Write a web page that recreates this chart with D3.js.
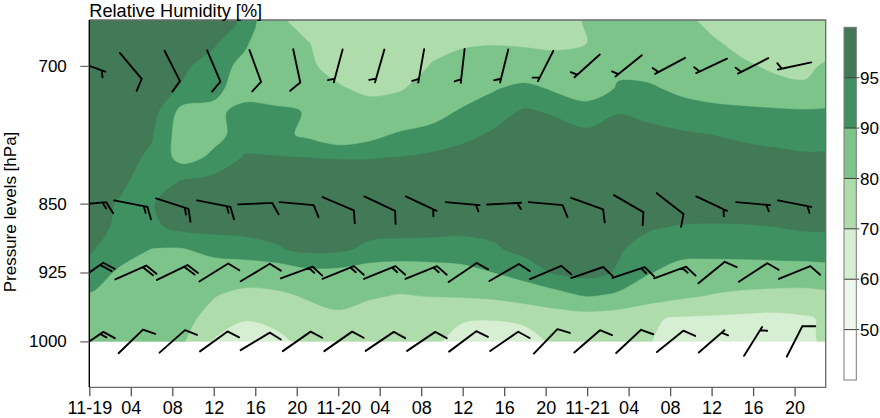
<!DOCTYPE html>
<html><head><meta charset="utf-8">
<script src="https://cdn.jsdelivr.net/npm/d3@7"></script>
<style>
body{margin:0;background:#fff}
svg{display:block}
text{font-family:"Liberation Sans",Arial,Helvetica,sans-serif;fill:#000}
</style>
</head><body>
<svg id="chart" width="880" height="418"></svg>
<script>
// ---------------- data ----------------
const gridHours = [0,3,6,9,12,15,18,21,24,27,30,33,36,39,42,45,48,51,54,57,60,63,66,69,72];
const gridLevels = [650,675,700,725,750,775,800,825,850,875,900,925,950,975,1000];
// relative humidity [%], one row per pressure level (top to bottom), one value per grid hour
const rh650  = [98,98,98,97,96.5,94.5,82,76,75,74,74,74,74,74,74,75,81,83,84,82,78,76,75,75,76];
const rh675  = [98,98,97.5,97,95.6,91,83,80.5,75,74,75,77,79,79.5,79,78,80,83,85,83,81,78,76,75,76];
const rh700  = [98,97.5,97,95.8,93,88,84,81.5,77,74,75,80.5,83,84,84,84,86,89,87,84,83,81,79,78.5,82];
const rh725  = [98,97.5,97,94.5,91.5,87,84,83,81,78,79.5,83,86,89.5,92,89,87,90.5,91,88.5,86,84,82,81,84];
const rh750  = [98,97.5,97,88,88.5,92,92,89.5,86,84,84,87,91,93.5,95.5,94.5,92.5,94.8,94,93,92.5,92,91.5,91,91];
const rh775  = [98,97.5,95.5,87,88.5,92,91.5,89,86,88,91,92.5,94,95.5,96,96.5,96,96.5,96,95.5,95,94.5,94,93.5,93.5];
const rh800  = [98,97,94,88,91,95.5,95.3,95,94.8,94.8,95.2,95.8,96.5,97,97,97,97,97,97,97,96.5,96,95.8,95.5,95.5];
const rh825  = [98,96,92.5,95.2,96.5,97,97.5,97.5,97.5,97.5,97.5,98,98,98,98,98,98,98,98,98,97.5,97.5,97.5,97.5,97.5];
const rh850  = [97,94.5,94.8,96.5,97.5,98,98,98,98,98,98,98,98,98,98,98,98,98,98,98,98,98,98,98,98];
const rh875  = [96,94.5,94,96.5,96.5,96.5,96.5,96.5,96.5,96.5,96.5,96.3,96,96,96,96,96.5,96.5,95.5,94.7,94.5,94.6,95,95.5,95.5];
const rh900  = [95.5,92.5,89.8,89.5,92,93,94.5,96,95.8,94,93.5,93.5,93.5,94.5,96,97,97.5,95.5,93,92,92,92.5,93,93,93];
const rh925  = [93,89,86,85.5,86,86,86.5,88.5,88.5,87,86.5,87,88,90,93,95.5,96.5,94.5,90.3,87.5,87,86.5,86.5,87,87];
const rh950  = [89.5,87,85,82,80.5,77,78,81,82.5,81,79.5,80.5,81,82,85,88,90.5,89,85,82,79.5,78,77,76.5,77];
const rh975  = [88,86,84,82.5,77,70.5,72,76,78.5,76,74,72,70.5,70.3,71,74,75.5,74,71,69,68.5,68,67.5,69,72];
const rh1000 = [86,84,83,81,69,66,68,72,75,75,74,71,68,67,68,71,73,72,70.2,68,67,66,66,68,73];

const rhBreaks = [50,60,70,80,90,95];
const rhColors = ["#ffffff","#eff8ee","#d6efd2","#aedcaa","#7dc48b","#3f9162","#427a58"];

const yTickValues = [700,850,925,1000];
const xTickHours = [0,4,8,12,16,20,24,28,32,36,40,44,48,52,56,60,64,68];
const xTickLabels = ["11-19","04","08","12","16","20","11-20","04","08","12","16","20","11-21","04","08","12","16","20"];

// wind barbs: direction (deg, from) and speed (kt) every 4 h at 4 levels
const barbHours = [0,4,8,12,16,20,24,28,32,36,40,44,48,52,56,60,64,68];
const barbLevels = [700,850,925,1000];
const windDir700  = [110,140,153,157,160,168,195,196,190,186.5,194,207,228,231,242,245,243,258];
const windSpd700  = [5,10,10,10,10,10,5,5,5,5,5,5,5,5,5,5,5,5];
const windDir850  = [85,101,108,101,87.5,95,113,115,115,95,87,95,110,120,128,115,95,101];
const windSpd850  = [15,15,15,15,10,10,10,10,5,5,5,10,10,10,10,5,5,5];
const windDir925  = [55,66,64,58,59,70,68,68,68,56,60,67,71,71.5,70,51,57,68];
const windSpd925  = [20,20,20,10,10,15,15,15,15,10,10,10,10,15,15,10,10,10];
const windDir1000 = [56,46,48.5,54,59,55,55,56,56,53,55.5,44,49,47,51,49,32,27];
const windSpd1000 = [15,10,10,10,10,10,10,10,10,10,10,10,10,10,10,5,5,10];

// ---------------- chart ----------------
const svg = d3.select("#chart");
const X0 = 89.3, X1 = 825.7, Y0 = 20, Y1 = 387.3;
const x = d3.scaleLinear().domain([0,71]).range([X0,X1]);
const y = d3.scaleLinear().domain([650,1050]).range([Y0,Y1]);

const defs = svg.append("defs");
defs.append("clipPath").attr("id","fieldClip").append("rect")
  .attr("x",x(0)).attr("y",y(650)).attr("width",x(71)-x(0)).attr("height",y(1000)-y(650));
defs.append("clipPath").attr("id","plotClip").append("rect")
  .attr("x",X0).attr("y",Y0).attr("width",X1-X0).attr("height",Y1-Y0);

const rows = [rh650,rh675,rh700,rh725,rh750,rh775,rh800,rh825,rh850,rh875,rh900,rh925,rh950,rh975,rh1000];
const nx = gridHours.length, ny = gridLevels.length;
const values = [];
rows.forEach(r => r.forEach(v => values.push(v)));
const hStep = gridHours[1]-gridHours[0], pStep = gridLevels[1]-gridLevels[0];
const gx = u => x(gridHours[0]+(u-0.5)*hStep);
const gy = v => y(gridLevels[0]+(v-0.5)*pStep);
const contours = d3.contours().size([nx,ny]).thresholds(rhBreaks)(values);
const ringLine = d3.line().x(p=>gx(p[0])).y(p=>gy(p[1])).curve(d3.curveCatmullRomClosed.alpha(0.5));
function contourPath(c){
  let s = "";
  c.coordinates.forEach(poly => poly.forEach(ring => {
    s += ringLine(ring.slice(0, ring.length-1));
  }));
  return s;
}

const field = svg.append("g").attr("clip-path","url(#fieldClip)");
field.append("rect").attr("x",x(0)).attr("y",y(650)).attr("width",x(71)-x(0)).attr("height",y(1000)-y(650)).attr("fill",rhColors[0]);
field.selectAll("path").data(contours).join("path")
  .attr("d",contourPath)
  .attr("fill-rule","evenodd")
  .attr("fill",(d,i)=>rhColors[i+1])
  .attr("stroke",(d,i)=>rhColors[i+1]).attr("stroke-width",0.4);

// wind barbs
const barbG = svg.append("g").attr("clip-path","url(#plotClip)");
const winds = [[windDir700,windSpd700],[windDir850,windSpd850],[windDir925,windSpd925],[windDir1000,windSpd1000]];
function barbPath(cx, cy, dir, spd){
  const th = (dir-90)*Math.PI/180;
  const ux = Math.cos(th), uy = Math.sin(th);
  const L = 17;
  const x1 = cx+L*ux, y1 = cy+L*uy;
  let p = `M${cx-L*ux},${cy-L*uy}L${x1},${y1}`;
  const fa = th + 63*Math.PI/180, fx = Math.cos(fa), fy = Math.sin(fa);
  const full = Math.floor(spd/10), half = Math.round((spd-full*10)/5);
  const sp = 3.8;
  let k = 0;
  for(let i=0;i<full;i++,k++){
    const px = x1-k*sp*ux, py = y1-k*sp*uy;
    p += `M${px},${py}l${13*fx},${13*fy}`;
  }
  if(half){
    if(k===0) k=1;
    const px = x1-k*sp*ux, py = y1-k*sp*uy;
    p += `M${px},${py}l${7*fx},${7*fy}`;
  }
  return p;
}
barbLevels.forEach((lev,li)=>{
  barbHours.forEach((h,hi)=>{
    barbG.append("path")
      .attr("d",barbPath(x(h),y(lev),winds[li][0][hi],winds[li][1][hi]))
      .attr("fill","none").attr("stroke","#000").attr("stroke-width",1.9)
      .attr("stroke-linecap","round").attr("stroke-linejoin","round");
  });
});

// frame
svg.append("path").attr("d",`M${X0},${Y0}H${X1}V${Y1}H${X0}`)
  .attr("fill","none").attr("stroke","#6a6a6a").attr("stroke-width",1.3);
svg.append("line").attr("x1",X0).attr("x2",X0).attr("y1",Y0).attr("y2",Y1)
  .attr("stroke","#000").attr("stroke-width",1.4);

// axes
const yAxis = svg.append("g").attr("transform",`translate(${X0},0)`)
  .call(d3.axisLeft(y).tickValues(yTickValues).tickSize(9).tickPadding(13.5).tickFormat(d3.format("d")));
yAxis.select(".domain").remove();
yAxis.selectAll(".tick line").attr("stroke","#6a6a6a").attr("stroke-width",1.3);
yAxis.selectAll(".tick text").attr("font-size",17).attr("font-family",null);

const xAxis = svg.append("g").attr("transform",`translate(0,${Y1})`)
  .call(d3.axisBottom(x).tickValues(xTickHours).tickSize(9).tickPadding(4.5).tickFormat((d,i)=>xTickLabels[i]));
xAxis.select(".domain").remove();
xAxis.selectAll(".tick line").attr("stroke","#555").attr("stroke-width",1.3);
xAxis.selectAll(".tick text").attr("font-size",18).attr("font-family",null);

// titles
svg.append("text").attr("x",X0).attr("y",17).attr("font-size",18.2).text("Relative Humidity [%]");
svg.append("text").attr("transform","translate(15.5,212) rotate(-90)").attr("text-anchor","middle")
  .attr("font-size",17).text("Pressure levels [hPa]");

// colour key
const kx0 = 844, kx1 = 856.3;
const ky = d3.scaleLinear().domain([0,rhColors.length]).range([380,27.3]);
const key = svg.append("g");
rhColors.forEach((c,i)=>{
  key.append("rect").attr("x",kx0).attr("y",ky(i+1)).attr("width",kx1-kx0).attr("height",ky(i)-ky(i+1)).attr("fill",c);
});
rhBreaks.forEach((b,i)=>{
  key.append("line").attr("x1",kx0).attr("x2",kx1+3).attr("y1",ky(i+1)).attr("y2",ky(i+1))
    .attr("stroke","#3a3a3a").attr("stroke-width",1);
  key.append("text").attr("x",860).attr("y",ky(i+1)).attr("dy","0.36em").attr("font-size",17).text(b);
});
key.append("rect").attr("x",kx0).attr("y",ky(rhColors.length)).attr("width",kx1-kx0).attr("height",ky(0)-ky(rhColors.length))
  .attr("fill","none").attr("stroke","#7a7a7a").attr("stroke-width",1);
</script>
</body></html>
